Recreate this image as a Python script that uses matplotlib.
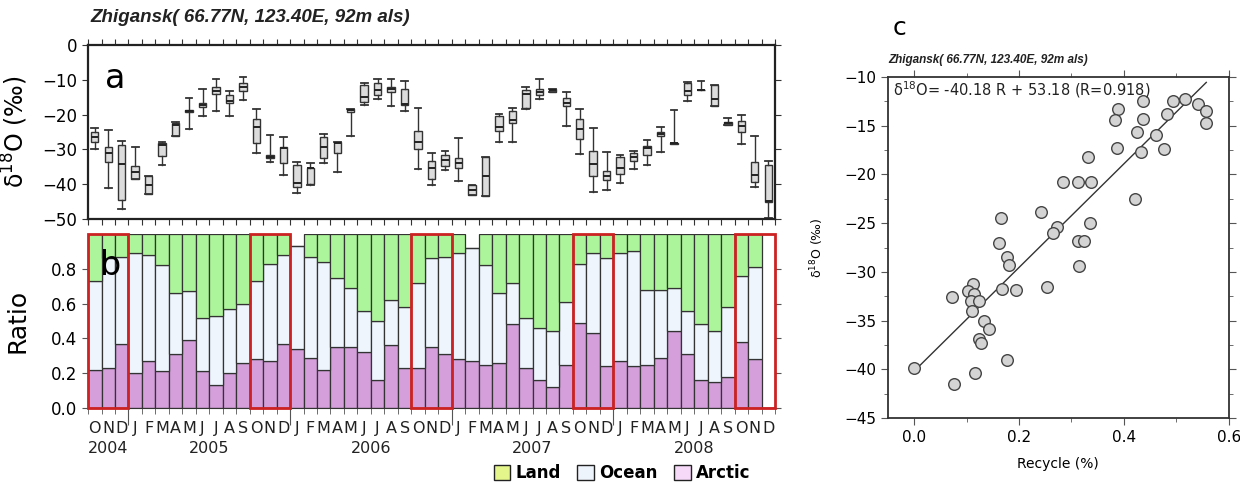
import numpy as np
import matplotlib
matplotlib.use("Agg")
import matplotlib.pyplot as plt
from matplotlib.patches import Rectangle, Patch

# -----------------------------
# Data (Oct 2004 .. Dec 2008, monthly)
# -----------------------------
months = list("OND") + list("JFMAMJJASOND") * 4
years = ["2004", "2005", "2006", "2007", "2008"]

# panel a: monthly d18O box stats
whi = [-23.9, -24.4, -27.5, -29.2, -37.7, -27.8, -22.0, -15.1, -12.5, -9.9, -13.1, -9.2,
       -18.3, -25.8, -26.5, -33.7, -34.0, -25.6, -28.0, -18.4, -11.0, -9.8, -9.8, -10.4,
       -18.2, -30.9, -30.5, -26.7, -40.2, -32.3, -19.8, -18.0, -12.0, -9.9, -12.5, -13.6,
       -18.3, -23.9, -30.7, -31.5, -30.5, -27.2, -23.5, -18.7, -10.5, -10.2, -11.5, -21.1,
       -20.1, -26.1, -33.3]
q3 = [-24.9, -29.4, -28.7, -34.8, -37.7, -28.2, -22.3, -18.7, -16.8, -12.2, -14.4, -11.0,
      -21.2, -31.7, -29.2, -34.5, -35.2, -26.5, -28.0, -18.4, -11.5, -11.0, -12.0, -12.7,
      -24.8, -33.2, -31.6, -32.6, -40.2, -32.3, -20.5, -18.9, -12.9, -12.7, -12.6, -15.1,
      -21.4, -30.4, -36.1, -32.1, -30.9, -29.0, -25.1, -28.1, -11.0, -12.8, -11.5, -22.0,
      -21.7, -33.7, -34.5]
med = [-26.3, -31.1, -34.3, -36.6, -40.3, -28.6, -23.1, -19.1, -17.1, -13.1, -16.1, -12.2,
       -23.7, -32.1, -29.7, -39.6, -35.4, -29.4, -28.3, -18.8, -14.8, -12.9, -12.7, -17.0,
       -28.0, -35.2, -33.0, -34.0, -41.7, -37.6, -23.7, -21.5, -14.2, -13.4, -12.9, -16.8,
       -24.2, -34.2, -37.6, -35.2, -32.1, -29.7, -25.7, -28.3, -13.1, -12.9, -15.5, -22.5,
       -23.3, -37.4, -44.7]
q1 = [-27.8, -33.7, -44.6, -38.5, -42.9, -31.8, -26.1, -19.3, -17.7, -14.1, -16.8, -13.2,
      -28.2, -32.6, -34.0, -40.7, -39.8, -32.4, -31.1, -19.3, -16.3, -14.4, -13.6, -17.3,
      -29.9, -38.5, -34.8, -35.4, -43.1, -43.3, -24.6, -22.5, -18.2, -14.4, -13.6, -17.4,
      -27.1, -37.5, -38.8, -37.1, -33.2, -31.6, -26.1, -28.5, -14.5, -13.0, -17.4, -22.9,
      -25.1, -39.3, -45.0]
wlo = [-29.9, -41.2, -47.2, -38.5, -42.9, -34.6, -26.1, -24.0, -20.4, -19.0, -20.5, -15.7,
       -31.1, -33.6, -37.4, -42.5, -40.2, -33.8, -36.4, -26.2, -17.1, -15.6, -17.5, -18.9,
       -35.7, -40.3, -35.9, -39.2, -43.1, -43.3, -27.8, -27.8, -18.5, -15.6, -13.6, -23.2,
       -31.3, -42.3, -41.7, -39.6, -35.7, -34.5, -30.7, -28.5, -16.1, -13.0, -17.4, -22.9,
       -28.5, -40.7, -49.8]

# panel b: moisture source ratios
arctic = [0.22, 0.23, 0.37, 0.20, 0.27, 0.21, 0.31, 0.39, 0.21, 0.13, 0.20, 0.26,
          0.28, 0.27, 0.37, 0.34, 0.29, 0.22, 0.35, 0.35, 0.32, 0.16, 0.36, 0.23,
          0.23, 0.35, 0.31, 0.28, 0.27, 0.25, 0.26, 0.48, 0.23, 0.16, 0.12, 0.25,
          0.49, 0.43, 0.24, 0.27, 0.24, 0.25, 0.29, 0.44, 0.31, 0.16, 0.15, 0.18,
          0.38, 0.28, 0.0]
ocean = [0.51, 0.63, 0.50, 0.69, 0.61, 0.61, 0.35, 0.28, 0.31, 0.40, 0.37, 0.34,
         0.45, 0.56, 0.51, 0.59, 0.58, 0.62, 0.40, 0.34, 0.24, 0.34, 0.26, 0.35,
         0.49, 0.51, 0.56, 0.61, 0.65, 0.57, 0.40, 0.24, 0.29, 0.30, 0.32, 0.36,
         0.34, 0.46, 0.62, 0.62, 0.66, 0.43, 0.39, 0.25, 0.25, 0.32, 0.29, 0.40,
         0.38, 0.53, 0.0]
land = [0.27, 0.14, 0.13, 0.11, 0.12, 0.18, 0.34, 0.33, 0.48, 0.47, 0.43, 0.40,
        0.27, 0.17, 0.12, 0.00, 0.13, 0.16, 0.25, 0.31, 0.44, 0.50, 0.38, 0.42,
        0.28, 0.14, 0.13, 0.11, 0.00, 0.18, 0.34, 0.28, 0.48, 0.54, 0.56, 0.39,
        0.17, 0.11, 0.14, 0.11, 0.10, 0.32, 0.32, 0.31, 0.44, 0.52, 0.56, 0.42,
        0.24, 0.19, 0.0]

# panel c: scatter of monthly d18O vs recycle fraction
recycle = [0.516, 0.494, 0.437, 0.542, 0.557, 0.389, 0.383, 0.437, 0.557, 0.483,
           0.425, 0.461, 0.386, 0.432, 0.477, 0.332, 0.283, 0.313, 0.337, 0.422,
           0.242, 0.166, 0.335, 0.272, 0.265, 0.312, 0.323, 0.162, 0.178, 0.181,
           0.315, 0.113, 0.253, 0.168, 0.194, 0.103, 0.114, 0.072, 0.108, 0.123,
           0.110, 0.133, 0.142, 0.124, 0.128, 0.177, 0.0, 0.117, 0.077]
d18o = [-12.3, -12.5, -12.5, -12.8, -13.5, -13.3, -14.4, -14.3, -14.7, -13.8,
        -15.6, -16.0, -17.3, -17.7, -17.4, -18.2, -20.8, -20.8, -20.8, -22.5,
        -23.9, -24.5, -25.0, -25.4, -26.0, -26.8, -26.8, -27.0, -28.5, -29.3,
        -29.4, -31.2, -31.5, -31.8, -31.9, -32.0, -32.3, -32.6, -33.0, -33.0,
        -34.0, -35.0, -35.9, -36.9, -37.3, -39.0, -39.9, -40.4, -41.5]
fit_slope = 53.18
fit_intercept = -40.18

n = len(months)
x = np.arange(n) + 0.5
title = "Zhigansk( 66.77N, 123.40E, 92m als)"
narrow = ["Liberation Sans Narrow", "Liberation Sans", "DejaVu Sans"]

fig = plt.figure(figsize=(12.4, 4.84), dpi=100)

# -----------------------------
# Panel a: box plots
# -----------------------------
ax_a = fig.add_axes([0.071, 0.5475, 0.554, 0.3595])
stats = [dict(whislo=wlo[i], q1=q1[i], med=med[i], q3=q3[i], whishi=whi[i], fliers=[])
         for i in range(n)]
ax_a.bxp(stats, positions=x, widths=0.55, capwidths=0.5, patch_artist=True,
         showfliers=False,
         boxprops=dict(facecolor="#dcdcdc", edgecolor="#333333", linewidth=1),
         medianprops=dict(color="#222222", linewidth=1.4),
         whiskerprops=dict(color="#333333", linewidth=1),
         capprops=dict(color="#333333", linewidth=1.3))
ax_a.set_xlim(0, n)
ax_a.set_ylim(-50, 0)
ax_a.set_xticks(np.arange(n + 1))
ax_a.set_xticklabels([])
ax_a.set_yticks(np.arange(-50, 1, 10))
ax_a.tick_params(axis="x", top=True, bottom=True, direction="out", length=4, color="#333")
ax_a.tick_params(axis="y", left=True, right=True, direction="out", length=4,
                 labelsize=12, color="#333")
for s in ax_a.spines.values():
    s.set_linewidth(1.6)
    s.set_color("#222")
ax_a.set_ylabel("δ$^{18}$O (‰)", fontsize=17)
ax_a.yaxis.set_label_coords(-0.085, 0.5)
ax_a.text(0.025, 0.81, "a", transform=ax_a.transAxes, fontsize=24, va="center")
fig.text(90 / 1240, 1 - 18 / 484, title, fontsize=13.5, fontweight="bold",
         style="italic", family=narrow, va="center", color="#222")

# -----------------------------
# Panel b: stacked ratios
# -----------------------------
ax_b = fig.add_axes([0.071, 0.157, 0.554, 0.3595])
arc = np.array(arctic)
oce = np.array(ocean)
lnd = np.array(land)
bar_kw = dict(width=1, edgecolor="#333333", linewidth=0.9)
ax_b.bar(x, arc, color="#d49fda", **bar_kw)
ax_b.bar(x, oce, bottom=arc, color="#eef5fd", **bar_kw)
ax_b.bar(x, lnd, bottom=arc + oce, color="#adf59a", **bar_kw)
for s in range(0, n, 12):
    ax_b.add_patch(Rectangle((s, 0), 3, 1, fill=False, edgecolor="#cc2222",
                             linewidth=2, zorder=5, clip_on=False))
ax_b.set_xlim(0, n)
ax_b.set_ylim(0, 1.0)
ax_b.set_yticks([0, 0.2, 0.4, 0.6, 0.8])
ax_b.set_yticklabels(["0.0", "0.2", "0.4", "0.6", "0.8"])
ax_b.set_xticks([3, 15, 27, 39])
ax_b.set_xticks(np.arange(n + 1), minor=True)
ax_b.set_xticklabels([])
ax_b.tick_params(axis="x", which="major", direction="out", length=12, color="#555")
ax_b.tick_params(axis="x", which="minor", direction="out", length=4, color="#555")
ax_b.tick_params(axis="y", left=True, right=True, direction="out", length=4,
                 labelsize=12, color="#555")
for side in ["top", "left", "right"]:
    ax_b.spines[side].set_visible(False)
ax_b.spines["bottom"].set_color("#333")
tr = ax_b.get_xaxis_transform()
for xi, m in zip(x, months):
    ax_b.text(xi, -0.115, m, transform=tr, ha="center", va="center", fontsize=11.5,
              color="#222")
year_pos = [1.5, 9, 21, 33, 45]
for xp, yr in zip(year_pos, years):
    ax_b.text(xp, -0.23, yr, transform=tr, ha="center", va="center", fontsize=11.5,
              color="#222")
ax_b.set_ylabel("Ratio", fontsize=18)
ax_b.yaxis.set_label_coords(-0.085, 0.5)
ax_b.text(0.017, 0.82, "b", transform=ax_b.transAxes, fontsize=24, va="center",
          zorder=6)

handles = [Patch(facecolor="#e4f58c", edgecolor="#222", label="Land"),
           Patch(facecolor="#eef4fb", edgecolor="#222", label="Ocean"),
           Patch(facecolor="#f6d8f8", edgecolor="#222", label="Arctic")]
fig.legend(handles=handles, loc="center", bbox_to_anchor=(622 / 1240, 1 - 473 / 484),
           ncol=3, frameon=False, handlelength=1.0, handleheight=1.0,
           handletextpad=0.3, columnspacing=1.0, prop=dict(weight="bold", size=12))

# -----------------------------
# Panel c: scatter
# -----------------------------
ax_c = fig.add_axes([0.716, 0.136, 0.275, 0.705])
ax_c.scatter(recycle, d18o, s=70, facecolor="#d4d4d4", edgecolor="#444444",
             linewidth=1, zorder=3)
xr = np.array([min(recycle), max(recycle)])
ax_c.plot(xr, fit_slope * xr + fit_intercept, color="#333333", linewidth=1, zorder=2)
ax_c.set_xlim(-0.05, 0.6)
ax_c.set_ylim(-45, -10)
ax_c.set_xticks([0, 0.2, 0.4, 0.6])
ax_c.set_xticklabels(["0.0", "0.2", "0.4", "0.6"])
ax_c.set_xticks(np.arange(0, 0.61, 0.1), minor=True)
ax_c.set_yticks(np.arange(-45, -9, 5))
ax_c.set_yticks(np.arange(-45, -9, 2.5), minor=True)
ax_c.tick_params(which="both", top=True, right=True, direction="out", color="#555")
ax_c.tick_params(which="major", length=5, labelsize=11)
ax_c.tick_params(which="minor", length=3)
for s in ax_c.spines.values():
    s.set_linewidth(1.3)
    s.set_color("#333")
ax_c.set_xlabel("Recycle (%)", fontsize=10, labelpad=9)
ax_c.set_ylabel("δ$^{18}$O (‰)", fontsize=9)
ax_c.yaxis.set_label_coords(-0.18, 0.5)
ax_c.text(0.015, 0.962, "δ$^{18}$O= -40.18 R + 53.18 (R=0.918)", transform=ax_c.transAxes,
          fontsize=10.5, va="center", color="#222")
fig.text(888 / 1240, 1 - 60 / 484, title, fontsize=8.5, fontweight="bold",
         style="italic", family=narrow, va="center", color="#222")
fig.text(893 / 1240, 1 - 28 / 484, "c", fontsize=18, va="center")

fig.savefig("out.png", dpi=100)
